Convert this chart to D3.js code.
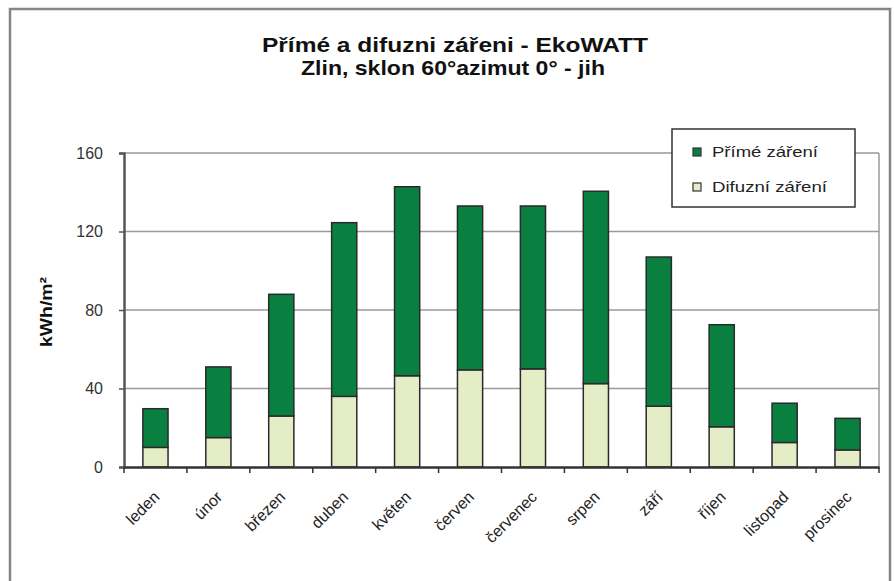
<!DOCTYPE html>
<html>
<head>
<meta charset="utf-8">
<script src="https://cdn.jsdelivr.net/npm/d3@7"></script>
<style>
  body { margin: 0; background: #fff; }
  text { font-family: "Liberation Sans", Arial, sans-serif; }
</style>
</head>
<body>
<div id="chart"></div>
<script>
// months
const months = ["leden", "únor", "březen", "duben", "květen", "červen",
  "červenec", "srpen", "září", "říjen", "listopad", "prosinec"];
// difuzní záření (bottom part)
const difuzni = [10, 15, 26, 36, 46.5, 49.5, 50, 42.5, 31, 20.5, 12.5, 8.7];
// přímé záření (stacked on top)
const prime = [19.7, 36, 62, 88.5, 96.3, 83.5, 83, 98, 76, 52, 20, 16.1];
const yTicks = [0, 40, 80, 120, 160];

const width = 894, height = 581;
const plotLeft = 124, plotRight = 879, plotTop = 153, plotBottom = 467;

const svg = d3.select("#chart").append("svg")
  .attr("width", width)
  .attr("height", height);

// outer chart frame
svg.append("rect")
  .attr("x", 10).attr("y", 9)
  .attr("width", 880).attr("height", 620)
  .attr("fill", "#fff")
  .attr("stroke", "#858585")
  .attr("stroke-width", 2.5);

// title
const title = svg.append("text")
  .attr("text-anchor", "middle")
  .attr("font-weight", "bold")
  .attr("font-size", 21)
  .attr("fill", "#111");
title.append("tspan").attr("x", 455).attr("y", 52)
  .attr("textLength", 386).attr("lengthAdjust", "spacingAndGlyphs")
  .text("Přímé a difuzni zářeni - EkoWATT");
title.append("tspan").attr("x", 453).attr("y", 75)
  .attr("textLength", 304).attr("lengthAdjust", "spacingAndGlyphs")
  .text("Zlin, sklon 60°azimut 0° - jih");

const x = d3.scaleBand()
  .domain(months)
  .range([plotLeft, plotRight])
  .paddingInner(0.6)
  .paddingOuter(0.3);

const y = d3.scaleLinear()
  .domain([0, 160])
  .range([plotBottom, plotTop]);

// gridlines
svg.append("g")
  .selectAll("line")
  .data(yTicks.filter(d => d > 0))
  .enter()
  .append("line")
  .attr("x1", plotLeft).attr("x2", plotRight)
  .attr("y1", d => y(d)).attr("y2", d => y(d))
  .attr("stroke", "#9a9a9a")
  .attr("stroke-width", 1.5);

// plot area right border
svg.append("line")
  .attr("x1", plotRight).attr("x2", plotRight)
  .attr("y1", plotTop).attr("y2", plotBottom)
  .attr("stroke", "#9a9a9a")
  .attr("stroke-width", 1.5);

// stacked data
const rows = months.map((m, i) => ({ month: m, difuzni: difuzni[i], prime: prime[i] }));
const stack = d3.stack().keys(["difuzni", "prime"])(rows);
const colors = { difuzni: "#e5edc6", prime: "#0a8040" };

svg.append("g")
  .selectAll("g")
  .data(stack)
  .enter()
  .append("g")
  .attr("fill", d => colors[d.key])
  .selectAll("rect")
  .data(d => d)
  .enter()
  .append("rect")
  .attr("x", d => x(d.data.month))
  .attr("y", d => y(d[1]))
  .attr("width", x.bandwidth())
  .attr("height", d => y(d[0]) - y(d[1]))
  .attr("stroke", "#2a2a2a")
  .attr("stroke-width", 1.5);

// y axis
const yAxis = svg.append("g")
  .attr("transform", `translate(${plotLeft},0)`)
  .call(d3.axisLeft(y).tickValues(yTicks).tickSize(5).tickPadding(16));
yAxis.select(".domain").attr("stroke", "#555").attr("stroke-width", 2.5);
yAxis.selectAll(".tick line").attr("stroke", "#555").attr("stroke-width", 1.5);
yAxis.selectAll(".tick text")
  .attr("font-size", 16)
  .attr("fill", "#333")
  .style("font-family", "Liberation Sans, Arial, sans-serif");

// x axis
const xAxis = svg.append("g")
  .attr("transform", `translate(0,${plotBottom})`)
  .call(d3.axisBottom(x).tickSize(0).tickFormat(""));
xAxis.select(".domain").attr("stroke", "#333").attr("stroke-width", 2.5);

// category separator ticks
svg.append("g")
  .selectAll("line")
  .data(d3.range(months.length + 1))
  .enter()
  .append("line")
  .attr("x1", i => plotLeft + i * x.step())
  .attr("x2", i => plotLeft + i * x.step())
  .attr("y1", plotBottom).attr("y2", plotBottom + 6)
  .attr("stroke", "#333")
  .attr("stroke-width", 1.5);

// rotated month labels
svg.append("g")
  .selectAll("text")
  .data(months)
  .enter()
  .append("text")
  .attr("transform", d => `translate(${x(d) + x.bandwidth() / 2 + 5},${plotBottom + 31}) rotate(-45)`)
  .attr("text-anchor", "end")
  .attr("font-size", 16)
  .attr("fill", "#222")
  .text(d => d);

// y axis title
svg.append("text")
  .attr("transform", "translate(52,312) rotate(-90)")
  .attr("text-anchor", "middle")
  .attr("font-size", 16)
  .attr("font-weight", "bold")
  .attr("fill", "#111")
  .attr("textLength", 70).attr("lengthAdjust", "spacingAndGlyphs")
  .text("kWh/m²");

// legend
const legend = svg.append("g");
legend.append("rect")
  .attr("x", 672).attr("y", 129)
  .attr("width", 183).attr("height", 78)
  .attr("fill", "#fff")
  .attr("stroke", "#333")
  .attr("stroke-width", 1.5);

const legendItems = [
  { label: "Přímé záření", key: "prime", y: 152, len: 106 },
  { label: "Difuzní záření", key: "difuzni", y: 187, len: 115 }
];
legendItems.forEach(it => {
  legend.append("rect")
    .attr("x", 693).attr("y", it.y - 4)
    .attr("width", 8).attr("height", 8)
    .attr("fill", colors[it.key])
    .attr("stroke", "#333")
    .attr("stroke-width", 1.2);
  legend.append("text")
    .attr("x", 712).attr("y", it.y + 5)
    .attr("font-size", 15)
    .attr("fill", "#222")
    .attr("textLength", it.len).attr("lengthAdjust", "spacingAndGlyphs")
    .text(it.label);
});
</script>
</body>
</html>
